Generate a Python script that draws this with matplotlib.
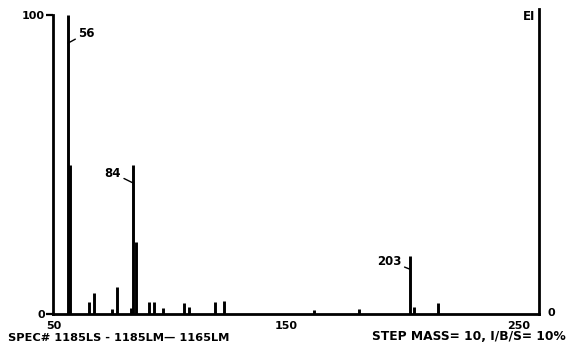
import matplotlib
matplotlib.use("Agg")
import matplotlib.pyplot as plt

# mass spectrum peaks (m/z, relative intensity %)
mz = [56, 57, 65, 67, 75, 77, 83, 84, 85, 91, 93, 97, 106, 108, 119, 123,
      162, 181, 203, 205, 215]
intensity = [100, 50, 4, 7, 1.7, 9, 2, 50, 24, 4, 4, 2, 3.7, 2.5, 4, 4.5,
             1.3, 1.7, 19.5, 2.5, 3.8]

labelled = {56: "56", 84: "84", 203: "203"}
x_ticks = [50, 150, 250]
x_tick_labels = ["50", "150", "250"]
y_ticks = [0, 100]
y_tick_labels = ["0", "100"]

footer_left = "SPEC# 1185LS - 1185LM\u2014 1165LM"
footer_right = "STEP MASS= 10, I/B/S= 10%"

W, H = 571, 350
fig = plt.figure(figsize=(W / 100, H / 100), dpi=100)
fig.patch.set_facecolor("white")

# axes box in pixel coords: x 53..539, y 15 (100%) .. 314 (0%)
ax = fig.add_axes([53 / W, 1 - 314 / H, (539 - 53) / W, (314 - 15) / H])
ax.set_xlim(49.5, 258.6)
ax.set_ylim(0, 100)

ax.vlines(mz, 0, intensity, colors="black", linewidth=2.1)

ax.spines["top"].set_visible(False)
for sp in ["left", "bottom", "right"]:
    ax.spines[sp].set_linewidth(2.0)
ax.spines["right"].set_bounds(0, 102)

font = dict(family="DejaVu Sans", weight="bold")

ax.set_xticks(x_ticks)
ax.set_xticklabels(x_tick_labels, fontsize=8, **font)
ax.tick_params(axis="x", length=0, pad=5)
ax.set_yticks(y_ticks)
ax.set_yticklabels(y_tick_labels, fontsize=8, **font)
ax.tick_params(axis="y", length=5, width=1.6, pad=1)

# peak labels with leader lines
offsets = {56: (10, 10, "left", 90.6), 84: (-12, 10, "right", 43.8),
           203: (-8, 8, "right", 15)}
for m, txt in labelled.items():
    dx, dy, ha, yy = offsets[m]
    ax.annotate(txt, xy=(m, yy), xytext=(dx, dy), textcoords="offset pixels",
                ha=ha, va="center", fontsize=8.5,
                arrowprops=dict(arrowstyle="-", lw=1.0, color="black",
                                shrinkA=0, shrinkB=0), **font)

# right-hand axis annotations
ax.annotate("0", xy=(1, 0), xycoords="axes fraction", xytext=(9, 1),
            textcoords="offset pixels", ha="left", va="center", fontsize=8, **font)
fig.text(535 / W, 1 - 17 / H, "EI", ha="right", va="center", fontsize=8.5, **font)

fig.text(8 / W, 1 - 338 / H, footer_left, ha="left", va="center", fontsize=8.2, **font)
fig.text(372 / W, 1 - 337 / H, footer_right, ha="left", va="center", fontsize=8.8, **font)

fig.savefig("out.png", dpi=100, facecolor="white")
